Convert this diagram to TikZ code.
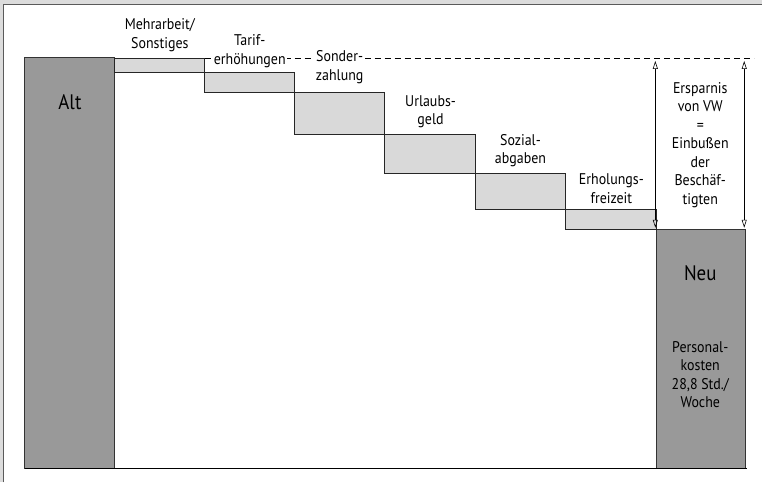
\documentclass[tikz,border=0pt]{standalone}
\usepackage{fontspec}
\setmainfont{PT Sans}[FakeStretch=0.9]
\usetikzlibrary{arrows.meta}

\definecolor{darkbar}{HTML}{999999}
\definecolor{lightbar}{HTML}{D9D9D9}
\definecolor{framegray}{HTML}{DCDCDC}
\definecolor{frameline}{HTML}{5A5A5A}

\tikzset{
  bar/.style={draw=black!80,line width=1pt,fill=darkbar},
  stepbox/.style={draw=black!85,line width=0.8pt,fill=lightbar},
  steplabel/.style={align=center,font=\fontsize{15.5}{18.5}\selectfont,fill=white,inner sep=1.5pt},
  barlabel/.style={align=center,font=\fontsize{15.5}{18.5}\selectfont},
  bigtext/.style={font=\fontsize{21}{24}\selectfont},
  span/.style={{Triangle[open,width=5pt,length=8pt]}-{Triangle[open,width=5pt,length=8pt]},line width=0.6pt}
}

\begin{document}
\begin{tikzpicture}[x=1pt,y=-1pt]
        % frame
        \fill[framegray] (0,0) rectangle (763,483);
        \fill[white] (3,4) rectangle (763,483);
        \draw[frameline,line width=1.6pt] (3.5,483)--(3.5,4.5)--(763,4.5);
        \useasboundingbox (0,0) rectangle (763,483);
        % reference level
        \draw[line width=0.5pt,dash pattern=on 6pt off 4pt] (115,58)--(755,58);
        % old and new costs
        \draw[bar] (25,58) rectangle (115,469);
        \draw[bar] (657,230) rectangle (746,469);
        \draw[line width=1pt] (25,469)--(748,469);
        \node[bigtext] (alt) at (70,102) {Alt};
        \node[bigtext] (neu) at (701,273) {Neu};
        \node[barlabel] (kosten) at (701,375) {Personal-\\kosten\\28,8 Std./\\Woche};
        % the steps
        \draw[stepbox] (115,58) rectangle (205,72);
        \draw[stepbox] (205,72) rectangle (295,92);
        \draw[stepbox] (295,92) rectangle (385,135);
        \draw[stepbox] (385,135) rectangle (476,174);
        \draw[stepbox] (476,174) rectangle (566,210);
        \draw[stepbox] (566,210) rectangle (657,230);
        \node[steplabel] (mehr) at (160,35) {Mehrarbeit/\\Sonstiges};
        \node[steplabel] (tarif) at (250,51) {Tarif-\\erhöhungen};
        \node[steplabel] (sonder) at (340,67) {Sonder-\\zahlung};
        \node[steplabel] (urlaub) at (431,112) {Urlaubs-\\geld};
        \node[steplabel] (sozial) at (521,151) {Sozial-\\abgaben};
        \node[steplabel] (erhol) at (612,189) {Erholungs-\\freizeit};
        % savings
        \coordinate (a1) at (656,61);
        \coordinate (a2) at (656,228);
        \coordinate (b1) at (745,61);
        \coordinate (b2) at (745,228);
        \draw[span] (a1)--(a2);
        \draw[span] (b1)--(b2);
        \node[barlabel] (spar) at (701,145) {Ersparnis\\von VW\\=\\Einbußen\\der\\Beschäf-\\tigten};
    \end{tikzpicture}
\end{document}
